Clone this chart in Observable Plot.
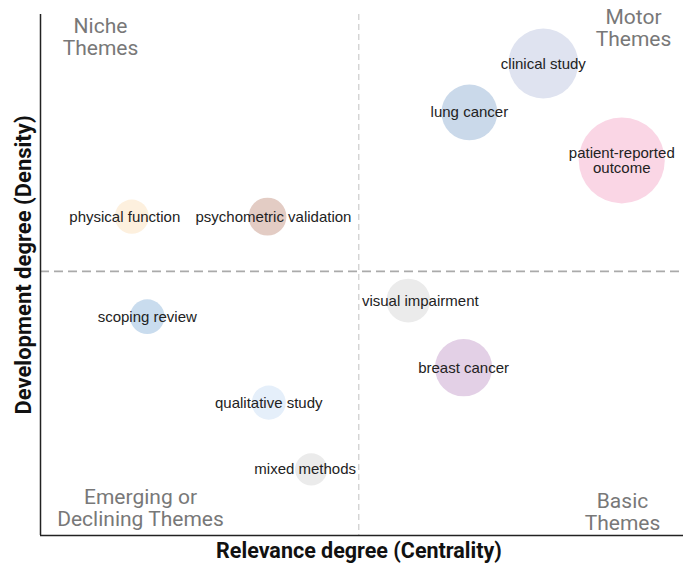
<!DOCTYPE html>
<html><head><meta charset="utf-8">
<script src="https://cdn.jsdelivr.net/npm/d3@7"></script>
<script src="https://cdn.jsdelivr.net/npm/@observablehq/plot@0.6"></script>
<style>body{margin:0;background:#fff}</style>
</head><body><div id="chart"></div>
<script>
const themes = ["clinical study", "lung cancer", "patient-reported outcome", "physical function", "psychometric validation", "scoping review", "visual impairment", "breast cancer", "qualitative study", "mixed methods"];
const centrality = [0.782, 0.667, 0.904, 0.142, 0.353, 0.166, 0.572, 0.658, 0.355, 0.421];
const density = [0.906, 0.812, 0.720, 0.612, 0.612, 0.420, 0.451, 0.322, 0.255, 0.127];
const frequency = [122, 78, 185, 29, 36, 30, 48, 82, 29, 26];
const palette = ["#dfe3f0", "#cad9ea", "#fad6e5", "#fdf0de", "#e3ccc4", "#c9dcee", "#ebebeb", "#e3d0e6", "#e5effa", "#ebebeb"];
const meanCentrality = 0.495;
const meanDensity = 0.507;
const quadrantNames = ["Niche\nThemes", "Motor\nThemes", "Emerging or\nDeclining Themes", "Basic\nThemes"];
const xTitle = "Relevance degree (Centrality)";
const yTitle = "Development degree (Density)";

const data = themes.map((t, i) => ({theme: t, x: centrality[i], y: density[i], f: frequency[i]}));
const label = d => d.theme.replace("patient-reported ", "patient-reported\n");
// small label nudges (pixels), like the repelled labels of the original
const nudge = {"physical function": -7, "psychometric validation": 6, "visual impairment": 12, "mixed methods": -6};
const nudgeGroups = d3.groups(data, d => nudge[d.theme] || 0);
const lStyle = {x: "x", y: "y", text: label, fontSize: 15, lineHeight: 1.05, fill: "#222", fontFamily: "'Liberation Sans', Arial, sans-serif"};
const qStyle = {fill: "#787878", fontSize: 21, lineHeight: 1.05, fontFamily: "Roboto, sans-serif", textAnchor: "middle", lineAnchor: "middle"};

const chart = Plot.plot({
  width: 685, height: 580,
  marginLeft: 40, marginRight: 2, marginTop: 14, marginBottom: 45,
  x: {domain: [0, 1], axis: null},
  y: {domain: [0, 1], axis: null},
  r: {type: "sqrt", domain: [0, 185], range: [0, 43]},
  color: {domain: themes, range: palette},
  style: {fontFamily: "Roboto, sans-serif", background: "#fff"},
  marks: [
    Plot.ruleX([meanCentrality], {stroke: "#cccccc", strokeWidth: 1.2, strokeDasharray: "6,4"}),
    Plot.ruleY([meanDensity], {stroke: "#aaaaaa", strokeWidth: 1.6, strokeDasharray: "9,5"}),
    Plot.dot(data, {x: "x", y: "y", r: "f", fill: "theme"}),
    ...nudgeGroups.map(([dx, rows]) => Plot.text(rows, {...lStyle, dx})),
    Plot.ruleX([0], {stroke: "#222", strokeWidth: 1.5}),
    Plot.ruleY([0], {stroke: "#222", strokeWidth: 1.5}),
    Plot.text([quadrantNames[0]], {...qStyle, frameAnchor: "top-left", dx: 60, dy: 22}),
    Plot.text([quadrantNames[1]], {...qStyle, frameAnchor: "top-right", dx: -50, dy: 13}),
    Plot.text([quadrantNames[2]], {...qStyle, frameAnchor: "bottom-left", dx: 100, dy: -28}),
    Plot.text([quadrantNames[3]], {...qStyle, frameAnchor: "bottom-right", dx: -61, dy: -24}),
    Plot.text([xTitle], {frameAnchor: "bottom", textAnchor: "middle", dy: 22, dx: -3, fontSize: 21.5, fontWeight: "bold", fill: "#111", fontFamily: "Roboto, sans-serif"}),
    Plot.text([yTitle], {frameAnchor: "left", textAnchor: "middle", dx: -17, dy: -10, rotate: -90, fontSize: 22, fontWeight: "bold", fill: "#111", fontFamily: "Roboto, sans-serif"})
  ]
});
document.getElementById("chart").append(chart);
</script>
</body></html>
